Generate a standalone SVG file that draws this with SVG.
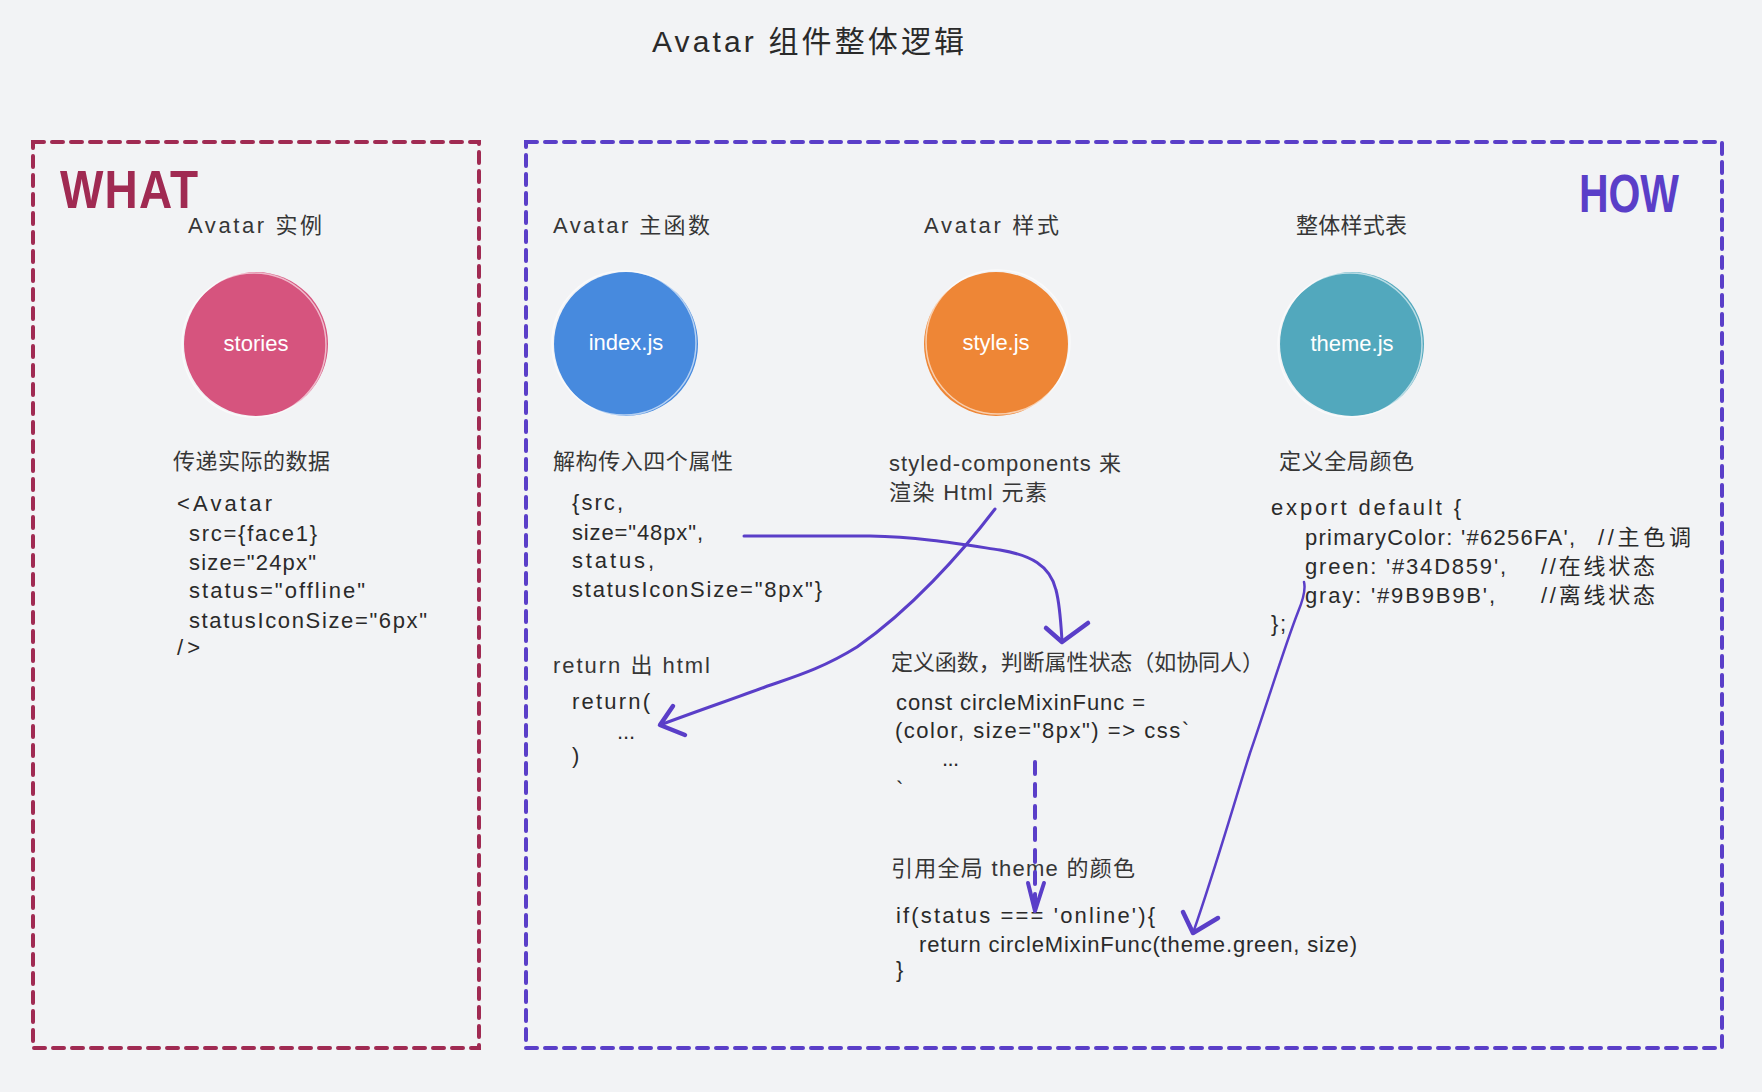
<svg xmlns="http://www.w3.org/2000/svg" width="1762" height="1092" viewBox="0 0 1762 1092">
<style>
.t{font-family:"Liberation Sans","Noto Sans CJK SC",sans-serif;fill:#2a2a2a}
.lbl{font-size:22px;fill:#363636}
.code{font-size:22px}
.cl{font-family:"Liberation Sans",sans-serif;font-size:22px;fill:#ffffff;text-anchor:middle}
.box{fill:none;stroke-width:4;stroke-dasharray:11 8;stroke-linecap:round}
.arr{fill:none;stroke:#5a3ec8;stroke-linecap:round;stroke-linejoin:round}
.sk{fill:none;stroke:#ffffff;stroke-opacity:0.6;stroke-width:1.5}
.big{font-family:"Liberation Sans",sans-serif;font-weight:bold}
</style>
<rect width="1762" height="1092" fill="#f2f3f5"/>

<text class="t" x="652" y="52" font-size="30" textLength="312" fill="#111">Avatar 组件整体逻辑</text>

<g id="what-frame">
<rect class="box" x="33" y="142" width="446" height="906" stroke="#a02a52"/>
<text class="big" transform="translate(60,208) scale(1,1.15)" x="0" y="0" font-size="46" fill="#a02a52" textLength="138">WHAT</text>
</g>

<g id="how-frame">
<rect class="box" x="526" y="142" width="1196" height="906" stroke="#5a3ec8"/>
<text class="big" transform="translate(1579,212) scale(1,1.3)" x="0" y="0" font-size="41" fill="#5a3ec8" textLength="100">HOW</text>
</g>

<g id="node-stories">
<text class="t lbl" x="188" y="233" textLength="134">Avatar 实例</text>
<circle cx="256" cy="344" r="72" fill="#d6547e"/>
<circle class="sk" cx="254" cy="345" r="72"/>
<text class="cl" x="256" y="351">stories</text>
<text class="t lbl" x="173" y="469" textLength="157">传递实际的数据</text>
<text class="t code" x="177" y="511" textLength="95">&lt;Avatar</text>
<text class="t code" x="189" y="541" textLength="128">src={face1}</text>
<text class="t code" x="189" y="570" textLength="127">size="24px"</text>
<text class="t code" x="189" y="598" textLength="176">status="offline"</text>
<text class="t code" x="189" y="628" textLength="238">statusIconSize="6px"</text>
<text class="t code" x="177" y="655" textLength="23">/&gt;</text>
</g>

<g id="node-index">
<text class="t lbl" x="553" y="233" textLength="157">Avatar 主函数</text>
<circle cx="626" cy="344" r="72" fill="#478ade"/>
<circle class="sk" cx="624" cy="343" r="72"/>
<text class="cl" x="626" y="350">index.js</text>
<text class="t lbl" x="553" y="469" textLength="180">解构传入四个属性</text>
<text class="t code" x="572" y="510" textLength="51">{src,</text>
<text class="t code" x="572" y="540" textLength="131">size="48px",</text>
<text class="t code" x="572" y="568" textLength="82">status,</text>
<text class="t code" x="572" y="597" textLength="250">statusIconSize="8px"}</text>
<text class="t lbl" x="553" y="673" textLength="157">return 出 html</text>
<text class="t code" x="572" y="709" textLength="78">return(</text>
<text class="t code" x="617" y="739" textLength="18">...</text>
<text class="t code" x="572" y="763">)</text>
</g>

<g id="node-style">
<text class="t lbl" x="924" y="233" textLength="135">Avatar 样式</text>
<circle cx="996" cy="344" r="72" fill="#ee8636"/>
<circle class="sk" cx="998" cy="342" r="72"/>
<text class="cl" x="996" y="350">style.js</text>
<text class="t lbl" x="889" y="471" textLength="232">styled-components 来</text>
<text class="t lbl" x="889" y="500" textLength="158">渲染 Html 元素</text>
<text class="t lbl" x="891" y="670" textLength="373">定义函数，判断属性状态（如协同人）</text>
<text class="t code" x="896" y="710" textLength="249">const circleMixinFunc =</text>
<text class="t code" x="895" y="738" textLength="294">(color, size="8px") =&gt; css`</text>
<text class="t code" x="942" y="766" textLength="17">...</text>
<text class="t code" x="896" y="797">`</text>
<text class="t lbl" x="891" y="876" textLength="244">引用全局 theme 的颜色</text>
<text class="t code" x="896" y="923" textLength="259">if(status === 'online'){</text>
<text class="t code" x="919" y="952" textLength="438">return circleMixinFunc(theme.green, size)</text>
<text class="t code" x="896" y="977">}</text>
</g>

<g id="node-theme">
<text class="t lbl" x="1296" y="233" textLength="111">整体样式表</text>
<circle cx="1352" cy="344" r="72" fill="#52a8bd"/>
<circle class="sk" cx="1350" cy="345" r="72"/>
<text class="cl" x="1352" y="351">theme.js</text>
<text class="t lbl" x="1279" y="469" textLength="135">定义全局颜色</text>
<text class="t code" x="1271" y="515" textLength="190">export default {</text>
<text class="t code" x="1305" y="545" textLength="270">primaryColor: '#6256FA',</text>
<text class="t code" x="1598" y="545" textLength="93">//主色调</text>
<text class="t code" x="1305" y="574" textLength="201">green: '#34D859',</text>
<text class="t code" x="1541" y="574" textLength="114">//在线状态</text>
<text class="t code" x="1305" y="603" textLength="190">gray: '#9B9B9B',</text>
<text class="t code" x="1541" y="603" textLength="114">//离线状态</text>
<text class="t code" x="1271" y="631" textLength="15">};</text>
</g>

<g id="connectors">
<path class="arr" stroke-width="3" d="M744,536 L870,536 C920,537 960,544 1000,550 C1030,555 1050,565 1056,590 C1060,605 1061,625 1062,641"/>
<path class="arr" stroke-width="4.5" d="M1046,628 L1062,642 L1088,623"/>
<path class="arr" stroke-width="3" d="M995,509 C960,555 910,610 857,647 C820,670 790,678 765,687 C730,700 700,710 660,725"/>
<path class="arr" stroke-width="4.5" d="M673,706 L660,725 L685,735"/>
<path class="arr" stroke-width="4" stroke-dasharray="12 10" d="M1035,762 L1035,905"/>
<path class="arr" stroke-width="4" d="M1028,883 L1035,911 L1044,883"/>
<path class="arr" stroke-width="2.5" d="M1304,582 C1306,590 1303,600 1298,612 C1285,645 1265,710 1250,753 C1235,800 1215,870 1193,933"/>
<path class="arr" stroke-width="4.5" d="M1183,912 L1193,933 L1218,918"/>
</g>
</svg>
